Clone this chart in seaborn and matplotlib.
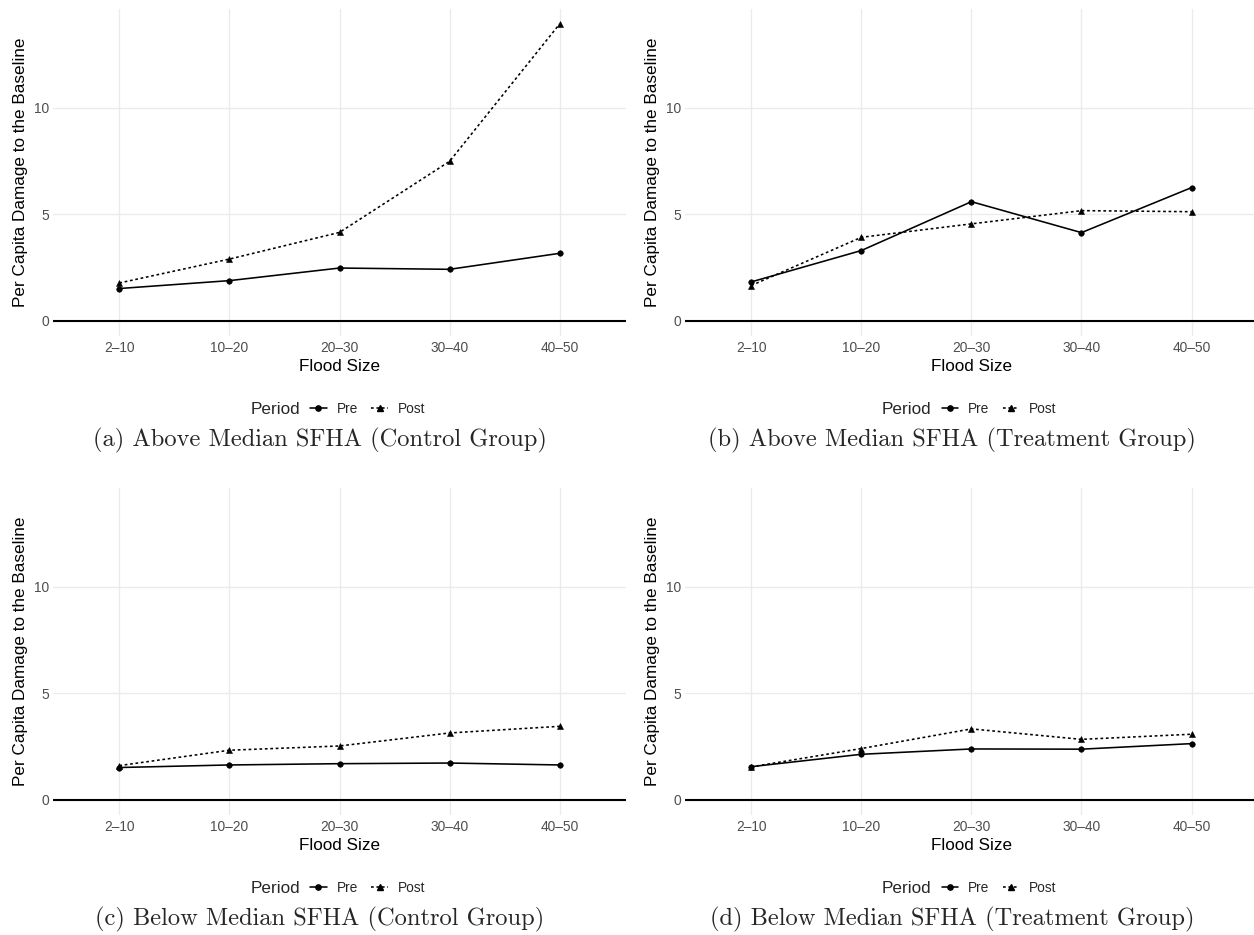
import matplotlib
matplotlib.use("Agg")
import matplotlib.pyplot as plt
import pandas as pd
import seaborn as sns
from matplotlib.lines import Line2D

# Flood-size bins shared by all four panels
flood_sizes = ["2–10", "10–20", "20–30", "30–40", "40–50"]
periods = ["Pre", "Post"]

# Per capita damage relative to the baseline
above_control_pre = [1.52, 1.89, 2.48, 2.42, 3.17]
above_control_post = [1.78, 2.90, 4.15, 7.48, 13.92]
above_treat_pre = [1.83, 3.30, 5.59, 4.14, 6.25]
above_treat_post = [1.66, 3.92, 4.55, 5.17, 5.12]
below_control_pre = [1.52, 1.64, 1.70, 1.73, 1.64]
below_control_post = [1.61, 2.33, 2.53, 3.14, 3.45]
below_treat_pre = [1.56, 2.14, 2.39, 2.38, 2.64]
below_treat_post = [1.55, 2.41, 3.33, 2.84, 3.08]

captions = [
    "(a) Above Median SFHA (Control Group)",
    "(b) Above Median SFHA (Treatment Group)",
    "(c) Below Median SFHA (Control Group)",
    "(d) Below Median SFHA (Treatment Group)",
]

y_label = "Per Capita Damage to the Baseline"
x_label = "Flood Size"

sns.set_theme(style="whitegrid")
plt.rcParams["font.family"] = ["Liberation Sans", "DejaVu Sans"]

W, H = 1254, 935
fig = plt.figure(figsize=(W / 100, H / 100), dpi=100)

series = [
    (above_control_pre, above_control_post),
    (above_treat_pre, above_treat_post),
    (below_control_pre, below_control_post),
    (below_treat_pre, below_treat_post),
]

# shared y scale: range from the zero reference line to the largest value, padded 5%
ymax = max(max(p + q) for p, q in series)
ylim = (-0.05 * ymax, ymax * 1.05)

# panel geometry in pixels (left, top); sizes common to all panels
ax_w, ax_h = 572.4, 326.7
origins = [(53.3, 9.1), (685.2, 9.1), (53.3, 488.1), (685.2, 488.1)]
caption_x = [320, 951.5, 320, 952]
col_shift = 631.5

LINE_W = 1.15
DOT = (1.7, 1.7)
TICK_SIZE = 9.9
TITLE_SIZE = 12.3
CAPTION_SIZE = 17.6

for (pre, post), (lx, ty), cap, cx in zip(series, origins, captions, caption_x):
    ax = fig.add_axes([lx / W, 1 - (ty + ax_h) / H, ax_w / W, ax_h / H])
    df = pd.DataFrame({
        "Flood Size": flood_sizes * 2,
        "value": list(pre) + list(post),
        "Period": ["Pre"] * len(flood_sizes) + ["Post"] * len(flood_sizes),
    })
    ax.axhline(0, color="black", lw=1.5, zorder=1)
    sns.lineplot(
        data=df, x="Flood Size", y="value", style="Period", style_order=periods,
        markers={"Pre": "o", "Post": "^"}, dashes={"Pre": "", "Post": DOT},
        color="black", linewidth=LINE_W, markersize=4.0, markeredgecolor="black",
        markeredgewidth=0.4, errorbar=None, sort=False, legend=False, ax=ax, zorder=3,
    )
    ax.set_xlim(-0.6, len(flood_sizes) - 0.4)
    ax.set_ylim(*ylim)
    ax.set_yticks([0, 5, 10])
    ax.set_facecolor("white")
    ax.grid(True, color="#EBEBEB", lw=1.0)
    ax.set_axisbelow(True)
    for s in ax.spines.values():
        s.set_visible(False)
    ax.tick_params(axis="both", length=0, labelsize=TICK_SIZE, labelcolor="#4D4D4D")
    ax.tick_params(axis="x", pad=3.6)
    ax.tick_params(axis="y", pad=3.0)
    ax.set_xlabel(x_label, fontsize=TITLE_SIZE, color="black", labelpad=3.0)
    ax.set_ylabel(y_label, fontsize=TITLE_SIZE, color="black", labelpad=4.5)

    # legend row: inline title followed by the two keys
    shift = 0 if lx < 600 else col_shift
    bottom_px = ty + ax_h
    leg_y = 1 - (bottom_px + 73.5) / H
    fig.text((300 + shift) / W, leg_y, "Period", ha="right", va="center",
             fontsize=TITLE_SIZE)
    handles = [
        Line2D([], [], color="black", lw=LINE_W, marker="o", markersize=3.8),
        Line2D([], [], color="black", lw=LINE_W, linestyle=(0, DOT), marker="^",
               markersize=4.2),
    ]
    fig.legend(handles, periods, loc="center left",
               bbox_to_anchor=((310 + shift) / W, leg_y),
               ncol=2, frameon=False, fontsize=TICK_SIZE, handlelength=1.2,
               handletextpad=0.72, columnspacing=1.0, borderpad=0, borderaxespad=0)

    fig.text(cx / W, 1 - (bottom_px + 105) / H, cap, ha="center", va="center",
             fontsize=CAPTION_SIZE, family="cmr10")

fig.savefig("out.png", dpi=100, facecolor="white")
